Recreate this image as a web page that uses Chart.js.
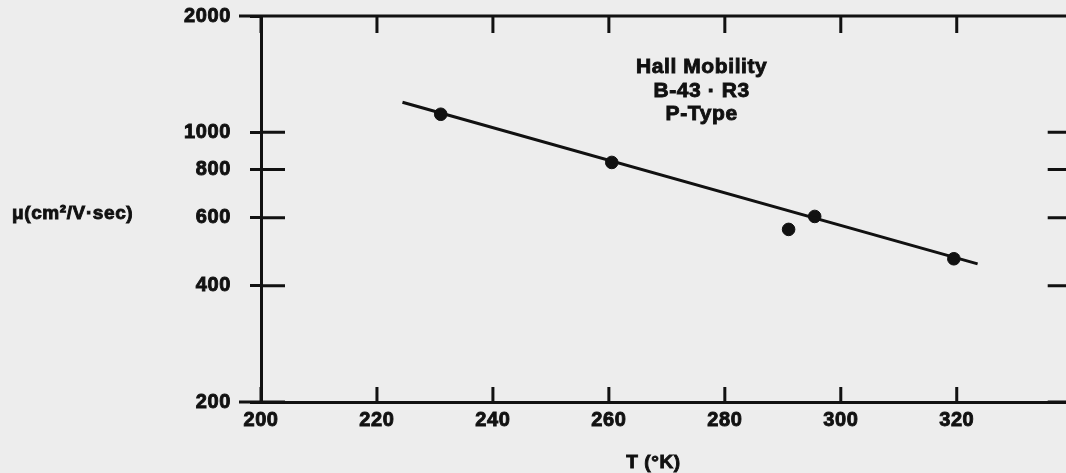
<!DOCTYPE html>
<html>
<head>
<meta charset="utf-8">
<script src="https://cdn.jsdelivr.net/npm/chart.js@4"></script>
<style>
  html, body { margin: 0; padding: 0; background: #ededed; overflow: hidden; }
  #wrap { width: 1080px; height: 473px; }
</style>
</head>
<body>
<div id="wrap"><canvas id="hallChart" width="1080" height="473"></canvas></div>
<script>
const tempK = [231, 260.5, 291, 295.5, 319.5];
const mobility = [1113, 835, 560, 605, 470];
// ends of the fitted line
const fitT = [224.4, 323.6];
const fitMu = [1196, 456];
// axis ticks
const xTicks = [200, 220, 240, 260, 280, 300, 320];
const yTicks = [200, 400, 600, 800, 1000, 2000];
const noteLines = ['Hall Mobility', 'B-43 · R3', 'P-Type'];

const ink = '#111';
const fontFamily = '"Liberation Sans", Arial, sans-serif';
const tickFont = { family: fontFamily, size: 20, weight: 'bold' };

// top/right frame, inward ticks and the free text labels
const framePlugin = {
  id: 'frame',
  beforeDraw(chart) {
    chart.ctx.letterSpacing = '0.6px';
  },
  afterDraw(chart) {
    const { ctx, chartArea: a, scales: { x, y } } = chart;
    ctx.save();
    ctx.strokeStyle = ink;
    ctx.lineWidth = 3;
    ctx.beginPath();
    ctx.moveTo(a.left - 22, a.top); ctx.lineTo(a.right, a.top);
    ctx.moveTo(a.left - 22, a.bottom); ctx.lineTo(a.left, a.bottom);
    ctx.moveTo(a.right, a.top); ctx.lineTo(a.right, a.bottom);
    xTicks.forEach(v => {
      const px = x.getPixelForValue(v);
      ctx.moveTo(px, a.bottom); ctx.lineTo(px, a.bottom - 15);
      ctx.moveTo(px, a.top); ctx.lineTo(px, a.top + 17);
    });
    yTicks.forEach(v => {
      const py = y.getPixelForValue(v);
      ctx.moveTo(a.left, py); ctx.lineTo(a.left + 24, py);
      ctx.moveTo(a.right, py); ctx.lineTo(a.right - 25, py);
    });
    ctx.stroke();

    // bolder, scan-like lettering
    ctx.fillStyle = ink;
    ctx.lineWidth = 0.9;
    ctx.font = `bold 21px ${fontFamily}`;
    ctx.textAlign = 'center';
    const nx = x.getPixelForValue(276);
    noteLines.forEach((t, i) => {
      ctx.fillText(t, nx, a.top + 57 + i * 23.5);
      ctx.strokeText(t, nx, a.top + 57 + i * 23.5);
    });

    ctx.font = `bold 19px ${fontFamily}`;
    ctx.textAlign = 'left';
    ctx.fillText('μ(cm²/V·sec)', 12, 219);
    ctx.strokeText('μ(cm²/V·sec)', 12, 219);
    ctx.textAlign = 'center';
    const tx = x.getPixelForValue(267.7);
    ctx.fillText('T (°K)', tx, 468);
    ctx.strokeText('T (°K)', tx, 468);
    ctx.restore();
  }
};

new Chart(document.getElementById('hallChart'), {
  type: 'scatter',
  data: {
    datasets: [
      {
        label: 'fit',
        data: fitT.map((t, i) => ({ x: t, y: fitMu[i] })),
        showLine: true,
        borderColor: ink,
        borderWidth: 3,
        pointRadius: 0,
        tension: 0
      },
      {
        label: 'Hall mobility',
        data: tempK.map((t, i) => ({ x: t, y: mobility[i] })),
        backgroundColor: ink,
        borderColor: ink,
        pointRadius: 6.3
      }
    ]
  },
  options: {
    responsive: false,
    animation: false,
    layout: { padding: { top: 16, right: 5, left: 0, bottom: 0 } },
    plugins: { legend: { display: false }, tooltip: { enabled: false } },
    scales: {
      x: {
        type: 'linear',
        min: 200,
        max: 340,
        afterBuildTicks: s => { s.ticks = xTicks.map(v => ({ value: v })); },
        afterFit: s => { s.height = 71; s.paddingLeft = 0; s.paddingRight = 0; },
        grid: { drawOnChartArea: false, drawTicks: false },
        border: { color: ink, width: 3 },
        ticks: { color: ink, padding: 6, font: tickFont, textStrokeColor: ink, textStrokeWidth: 0.9 }
      },
      y: {
        type: 'logarithmic',
        min: 200,
        max: 2000,
        afterBuildTicks: s => { s.ticks = yTicks.map(v => ({ value: v })); },
        afterFit: s => { s.width = 261; s.paddingTop = 0; s.paddingBottom = 0; },
        grid: { drawOnChartArea: false, tickLength: 11, tickWidth: 3, tickColor: ink },
        border: { color: ink, width: 3 },
        ticks: {
          color: ink,
          padding: 19,
          callback: v => String(v),
          font: tickFont,
          textStrokeColor: ink,
          textStrokeWidth: 0.9
        }
      }
    }
  },
  plugins: [framePlugin]
});
</script>
</body>
</html>
